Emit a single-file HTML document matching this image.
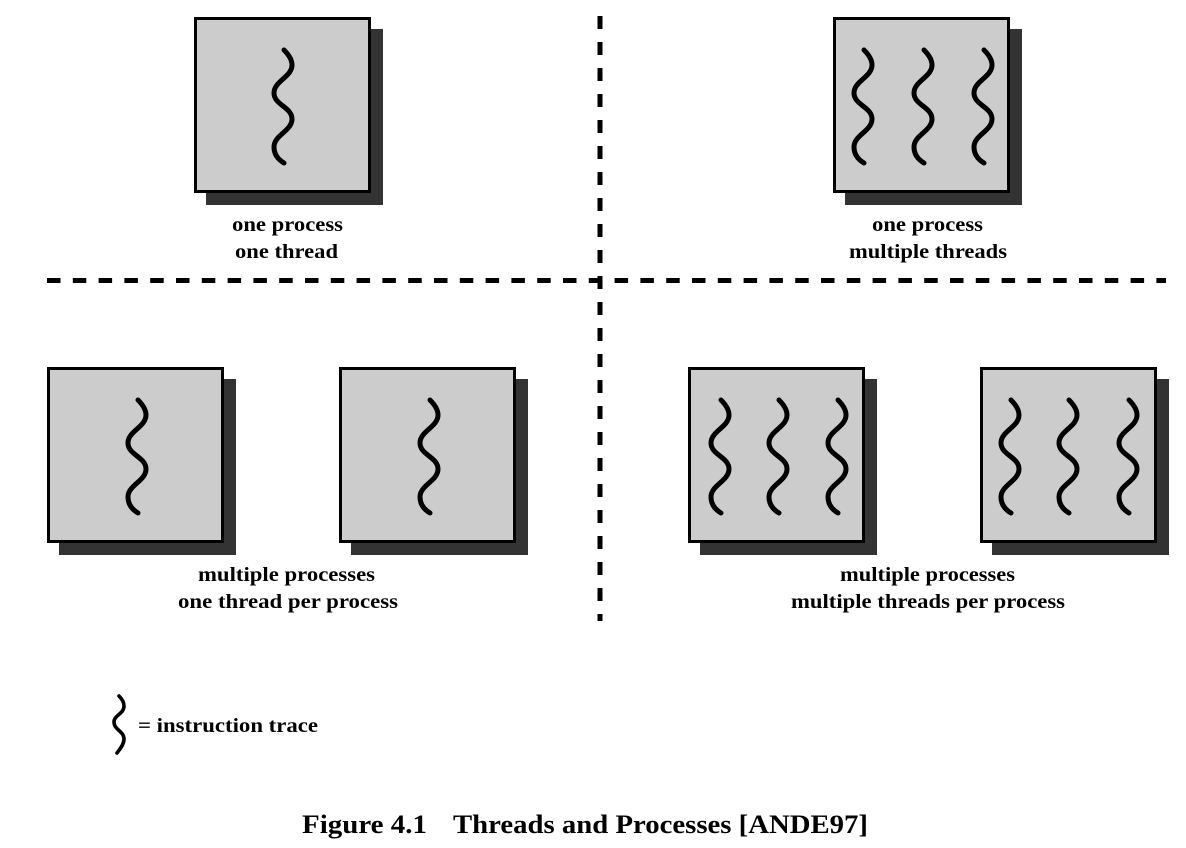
<!DOCTYPE html>
<html>
<head>
<meta charset="utf-8">
<style>
  html, body { margin: 0; padding: 0; background: #fff; }
  body { width: 1186px; height: 848px; overflow: hidden; }
  svg { display: block; }
  text { font-family: "Liberation Serif", "DejaVu Serif", serif; font-weight: bold; fill: #000; }
</style>
</head>
<body>
<svg width="1186" height="848" viewBox="0 0 1186 848" xmlns="http://www.w3.org/2000/svg">
  <defs>
    <g id="box">
      <rect x="12" y="12" width="177" height="176" fill="#333333"/>
      <rect x="1.5" y="1.5" width="174" height="173" fill="#cccccc" stroke="#000" stroke-width="3"/>
    </g>
    <path id="wave" d="M 1,33 C 6,38 9,43 9,48 C 9,60 -9,64 -9,76 C -9,88 9,90 9,102 C 9,114 -9,118 -9,130 C -9,138 -4,143 1,146" fill="none" stroke="#000" stroke-width="5" stroke-linecap="round"/>
  </defs>

  <!-- dashed separators -->
  <line x1="600" y1="16" x2="600" y2="621" stroke="#000" stroke-width="5" stroke-dasharray="13 13"/>
  <line x1="47" y1="280.5" x2="1166" y2="280.5" stroke="#000" stroke-width="5" stroke-dasharray="13.5 12.3"/>

  <!-- Box 1: one process one thread -->
  <g transform="translate(194,17)">
    <use href="#box"/>
    <use href="#wave" x="89"/>
  </g>

  <!-- Box 2: one process multiple threads -->
  <g transform="translate(833,17)">
    <use href="#box"/>
    <use href="#wave" x="30"/>
    <use href="#wave" x="90"/>
    <use href="#wave" x="150"/>
  </g>

  <!-- Box 3 -->
  <g transform="translate(47,367)">
    <use href="#box"/>
    <use href="#wave" x="90"/>
  </g>

  <!-- Box 4 -->
  <g transform="translate(339,367)">
    <use href="#box"/>
    <use href="#wave" x="90"/>
  </g>

  <!-- Box 5 -->
  <g transform="translate(688,367)">
    <use href="#box"/>
    <use href="#wave" x="32"/>
    <use href="#wave" x="90"/>
    <use href="#wave" x="149"/>
  </g>

  <!-- Box 6 -->
  <g transform="translate(980,367)">
    <use href="#box"/>
    <use href="#wave" x="30"/>
    <use href="#wave" x="88"/>
    <use href="#wave" x="148"/>
  </g>

  <!-- Labels -->
  <text x="232" y="231" font-size="20" textLength="111" lengthAdjust="spacingAndGlyphs">one process</text>
  <text x="235" y="258" font-size="20" textLength="103" lengthAdjust="spacingAndGlyphs">one thread</text>

  <text x="872" y="231" font-size="20" textLength="111" lengthAdjust="spacingAndGlyphs">one process</text>
  <text x="849" y="258" font-size="20" textLength="158" lengthAdjust="spacingAndGlyphs">multiple threads</text>

  <text x="198" y="581" font-size="20" textLength="177" lengthAdjust="spacingAndGlyphs">multiple processes</text>
  <text x="178" y="608" font-size="20" textLength="220" lengthAdjust="spacingAndGlyphs">one thread per process</text>

  <text x="840" y="581" font-size="20" textLength="175" lengthAdjust="spacingAndGlyphs">multiple processes</text>
  <text x="791" y="608" font-size="20" textLength="274" lengthAdjust="spacingAndGlyphs">multiple threads per process</text>

  <!-- Legend -->
  <path d="M 119,696 C 122,699 124,702 124,706 C 124,714 114,715 114,722 C 114,730 124,731 124,739 C 124,745 119,750 117,753" fill="none" stroke="#000" stroke-width="3.6" stroke-linecap="round"/>
  <text x="138" y="732" font-size="20" textLength="180" lengthAdjust="spacingAndGlyphs">= instruction trace</text>

  <!-- Caption -->
  <text x="302" y="833" font-size="26" textLength="125" lengthAdjust="spacingAndGlyphs">Figure 4.1</text>
  <text x="453" y="833" font-size="26" textLength="415" lengthAdjust="spacingAndGlyphs">Threads and Processes [ANDE97]</text>
</svg>
</body>
</html>
